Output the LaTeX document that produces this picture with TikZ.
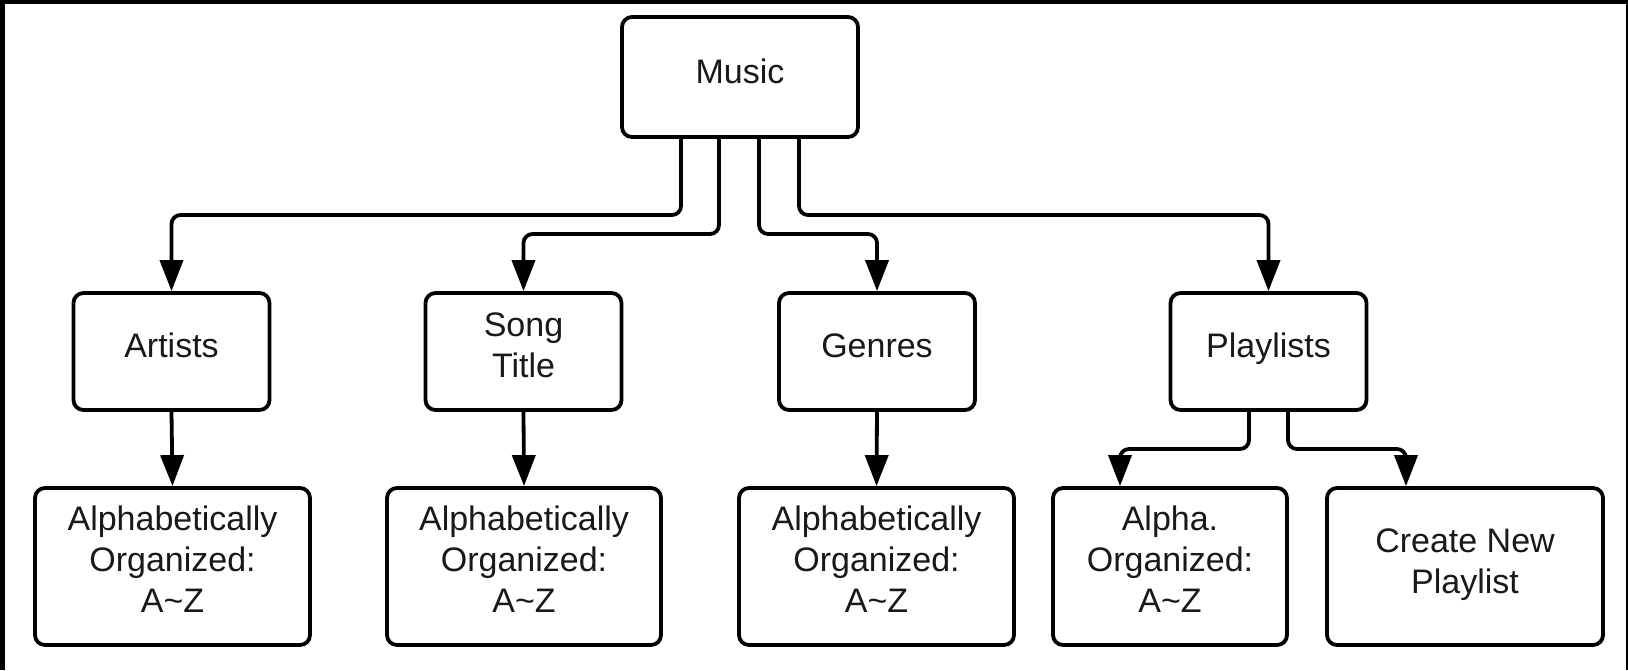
\documentclass[tikz,border=0pt]{standalone}
\usepackage{fontspec}
\setmainfont{Liberation Sans}
\usetikzlibrary{arrows.meta}
\begin{document}
\begin{tikzpicture}[x=1pt,y=-1pt,
  box/.style={draw=black, line width=3.8pt, rounded corners=10pt, fill=white,
    inner sep=0pt},
  lbl/.style={align=center, inner sep=0pt, text=black!90,
    font=\fontsize{34}{41}\selectfont},
  topbox/.style={box, minimum width=196pt, minimum height=117pt},
  leafbox/.style={box, minimum height=157pt},
  conn/.style={line width=3.8pt, rounded corners=9pt,
    -{Triangle[length=31pt,width=23pt]}}]
% frame
\fill[black] (0,0) rectangle (1628,670);
\fill[white] (5,4) rectangle (1626,670);
\useasboundingbox (0,0) rectangle (1628,670);

% boxes
\node[box, minimum width=236pt, minimum height=120pt] (music) at (740,77) {};

\node[topbox] (artists)   at (171.5,351.5) {};
\node[topbox] (song)      at (523.5,351.5) {};
\node[topbox] (genres)    at (877,351.5)   {};
\node[topbox] (playlists) at (1268.5,351.5) {};

\node[leafbox, minimum width=275pt] (alpha1) at (172.5,566.5) {};
\node[leafbox, minimum width=274pt] (alpha2) at (524,566.5)   {};
\node[leafbox, minimum width=275pt] (alpha3) at (876.5,566.5) {};
\node[leafbox, minimum width=234pt] (alpha4) at (1170,566.5)  {};
\node[leafbox, minimum width=276pt] (newpl)  at (1465,566.5)  {};

% box texts
\node[lbl] (music-t)     at ([yshift=2pt]music.center)     {\strut Music};
\node[lbl] (artists-t)   at ([yshift=2pt]artists.center)   {\strut Artists};
\node[lbl] (song-t)      at ([yshift=6pt]song.center)      {Song\\Title};
\node[lbl] (genres-t)    at ([yshift=2pt]genres.center)    {\strut Genres};
\node[lbl] (playlists-t) at ([yshift=2pt]playlists.center) {\strut Playlists};
\node[lbl] (alpha1-t) at ([yshift=7pt]alpha1.center) {Alphabetically\\Organized:\\A\char`~Z};
\node[lbl] (alpha2-t) at ([yshift=7pt]alpha2.center) {Alphabetically\\Organized:\\A\char`~Z};
\node[lbl] (alpha3-t) at ([yshift=7pt]alpha3.center) {Alphabetically\\Organized:\\A\char`~Z};
\node[lbl] (alpha4-t) at ([yshift=7pt]alpha4.center) {Alpha.\\Organized:\\A\char`~Z};
\node[lbl] (newpl-t)  at ([yshift=2pt]newpl.center)  {Create New\\Playlist};

% exit and entry columns
\coordinate (xa) at (681,0);
\coordinate (xs) at (719,0);
\coordinate (xg) at (759,0);
\coordinate (xp) at (799,0);
\coordinate (xl) at (1249,0);
\coordinate (xr) at (1288,0);
\coordinate (tl) at (1120,0);
\coordinate (tr) at (1406,0);

% connectors from Music
\draw[conn] (music.south -| xa) -- (xa |- 0,215) -- (artists.north |- 0,215) -- (artists.north);
\draw[conn] (music.south -| xs) -- (xs |- 0,234) -- (song.north |- 0,234) -- (song.north);
\draw[conn] (music.south -| xg) -- (xg |- 0,234) -- (genres.north |- 0,234) -- (genres.north);
\draw[conn] (music.south -| xp) -- (xp |- 0,215) -- (playlists.north |- 0,215) -- (playlists.north);

% straight drops
\draw[conn] (artists.south) -- (alpha1.north);
\draw[conn] (song.south) -- (alpha2.north);
\draw[conn] (genres.south) -- (alpha3.north);

% playlist branches
\draw[conn] (playlists.south -| xl) -- (xl |- 0,449) -- (tl |- 0,449) -- (alpha4.north -| tl);
\draw[conn] (playlists.south -| xr) -- (xr |- 0,449) -- (tr |- 0,449) -- (newpl.north -| tr);
\end{tikzpicture}
\end{document}
